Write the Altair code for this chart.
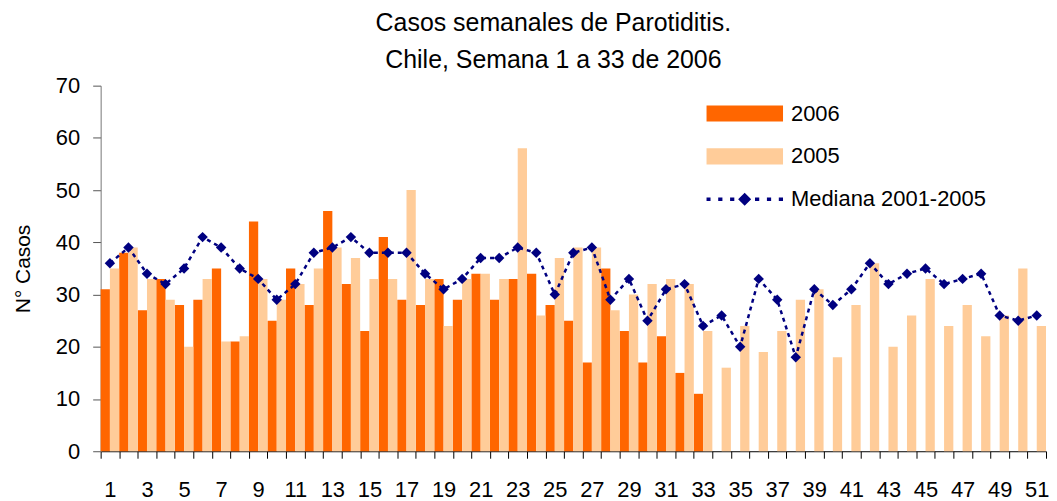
import altair as alt
import pandas as pd

semanas = list(range(1, 52))
casos_2006 = [31, 38, 27, 33, 28, 29, 35, 21, 44, 25, 35, 28, 46, 32, 23, 41, 29, 28, 33, 29,
              34, 29, 33, 34, 28, 25, 17, 35, 23, 17, 22, 15, 11]
casos_2005 = [35, 39, 33, 29, 20, 33, 21, 22, 33, 29, 32, 35, 39, 37, 33, 33, 50, 33, 24, 33,
              34, 33, 58, 26, 37, 39, 39, 27, 30, 32, 33, 32, 23, 16, 24, 19, 23, 29, 31, 18,
              28, 36, 20, 26, 33, 24, 28, 22, 26, 35, 24]
mediana = [36, 39, 34, 32, 35, 41, 39, 35, 33, 29, 32, 38, 39, 41, 38, 38, 38, 34, 31, 33,
           37, 37, 39, 38, 30, 38, 39, 29, 33, 25, 31, 32, 24, 26, 20, 33, 29, 18, 31, 28,
           31, 36, 32, 34, 35, 32, 33, 34, 26, 25, 26]
series = ["2006", "2005", "Mediana 2001-2005"]
colores = ["#FF6600", "#FFCC99", "#000080"]

FONT = "Liberation Sans"

rows = []
for i, v in enumerate(casos_2006):
    rows.append({"semana": semanas[i], "serie": series[0], "casos": v})
for i, v in enumerate(casos_2005):
    rows.append({"semana": semanas[i], "serie": series[1], "casos": v})
bars_df = pd.DataFrame(rows)
med_df = pd.DataFrame({"semana": semanas, "serie": series[2], "casos": mediana})

rect_path = "M-1,-0.21L1,-0.21L1,0.21L-1,0.21Z"
d = 0.045
def seg(a, b):
    return f"M{a},{-d}L{b},{-d}L{b},{d}L{a},{d}Z"
med_path = (seg(-1, -0.89) + seg(-0.69, -0.58) + seg(-0.38, -0.27) +
            "M0,-0.17L0.17,0L0,0.17L-0.17,0Z" +
            seg(0.27, 0.38) + seg(0.58, 0.69) + seg(0.89, 1))

x_enc = alt.X("semana:O", title=None,
              scale=alt.Scale(domain=semanas, paddingInner=0, paddingOuter=0),
              axis=alt.Axis(labelAngle=0, tickBand="extent", tickSize=7, labelPadding=21,
                            labelFontSize=22, labelFont=FONT, labelColor="#000",
                            domainColor="#000", tickColor="#000",
                            labelExpr="datum.value % 2 == 1 ? datum.label : ''"))
y_enc = alt.Y("casos:Q", title="N° Casos",
              scale=alt.Scale(domain=[0, 70], nice=False),
              axis=alt.Axis(values=list(range(0, 71, 10)), grid=False, tickSize=8,
                            labelPadding=13, labelFontSize=22, labelFont=FONT,
                            labelColor="#000", titleFontSize=21, titleFont=FONT,
                            titleFontWeight="normal", titleColor="#000", titlePadding=22,
                            domainColor="#777", tickColor="#555"))

color_scale = alt.Scale(domain=series, range=colores)

bars = alt.Chart(bars_df).mark_bar().encode(
    x=x_enc,
    y=y_enc,
    xOffset=alt.XOffset("serie:N", sort=series[:2],
                        scale=alt.Scale(domain=series[:2], paddingInner=0, paddingOuter=0)),
    color=alt.Color("serie:N", scale=color_scale, legend=None),
)

line = alt.Chart(med_df).mark_line(strokeDash=[4, 4], strokeWidth=2.5, color=colores[2]).encode(
    x=x_enc, y=y_enc,
)

points = alt.Chart(med_df).mark_point(filled=True, shape="diamond", size=110, opacity=1,
                                      color=colores[2]).encode(
    x=x_enc, y=y_enc,
)

leg = dict(title=None, orient="none", legendX=608, legendY=18,
           symbolSize=5929, clipHeight=20, rowPadding=21,
           symbolStrokeWidth=0, labelOffset=8, labelLimit=400,
           labelFontSize=22, labelFont=FONT, labelColor="#000", symbolOpacity=1)

legend_layer = alt.Chart(med_df).transform_filter("datum.semana < 0").mark_point(
    filled=True, opacity=1).encode(
    x=x_enc, y=y_enc,
    color=alt.Color("serie:N", scale=color_scale, legend=alt.Legend(**leg)),
    shape=alt.Shape("serie:N", scale=alt.Scale(domain=series,
                                               range=[rect_path, rect_path, med_path]),
                    legend=alt.Legend(**leg)),
)

chart = alt.layer(bars, line, points, legend_layer).resolve_legend(
    color="independent", shape="independent"
).properties(
    width=949, height=367,
    padding={"left": 4, "top": 2, "right": 0, "bottom": 0},
    title=alt.TitleParams(["Casos semanales de Parotiditis.", "Chile, Semana 1 a 33 de 2006"],
                          fontSize=25, font=FONT, fontWeight="normal", color="#000",
                          lineHeight=37, anchor="middle", dx=-20, offset=2),
).configure_view(stroke=None)

chart.save("out.html", embed_options={"renderer": "svg", "actions": False})
